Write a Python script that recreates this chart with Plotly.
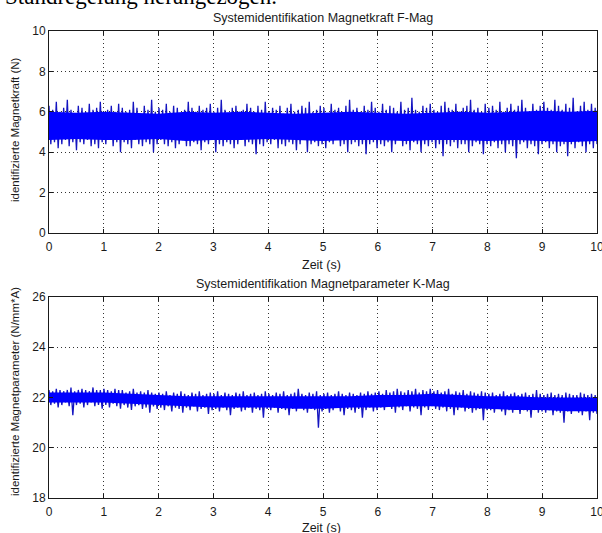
import numpy as np
import plotly.graph_objects as go
from plotly.subplots import make_subplots

# ---- data (envelope samples of the noisy signals) ----
t_start, t_end = 0.0, 10.0

f_upper = [6.3,6.1,6.5,6.0,6.2,6.6,6.1,5.9,6.3,6.2,
           6.0,6.4,6.1,6.2,6.5,5.9,6.1,6.3,6.0,6.4,
           6.2,6.0,6.1,6.5,6.2,5.9,6.3,6.1,6.6,6.0,
           6.2,6.1,6.4,6.0,6.3,6.2,5.9,6.1,6.5,6.2,
           6.0,6.3,6.1,6.2,6.4,6.0,6.2,6.6,6.1,5.9,
           6.2,6.3,6.0,6.1,6.4,6.2,6.0,6.3,6.1,6.5,
           6.0,6.2,6.1,6.3,5.9,6.2,6.4,6.0,6.1,6.3,
           6.2,6.5,6.0,6.1,6.3,6.2,5.9,6.4,6.1,6.2,
           6.0,6.3,6.6,6.1,6.2,6.0,6.3,6.1,6.5,6.2,
           6.0,6.4,6.1,6.3,6.2,6.0,6.5,6.1,6.2,6.7,
           6.1,6.0,6.3,6.2,6.4,6.1,6.0,6.3,6.5,6.2,
           6.1,6.4,6.0,6.2,6.3,6.6,6.1,6.2,6.0,6.4,
           6.2,6.3,6.1,6.5,6.0,6.2,6.4,6.1,6.3,6.6,
           6.2,6.0,6.4,6.1,6.3,6.5,6.2,6.1,6.6,6.3,
           6.1,6.4,6.2,6.7,6.0,6.3,6.5,6.1,6.4,6.2]

f_lower = [4.4,4.5,4.2,4.4,4.6,4.3,4.5,4.1,4.5,4.4,
           4.6,4.3,4.4,4.2,4.5,4.4,4.6,4.3,4.5,4.0,
           4.5,4.4,4.2,4.6,4.4,4.3,4.5,4.4,4.0,4.4,
           4.6,4.4,4.3,4.5,4.2,4.4,4.6,4.3,4.3,4.5,
           4.4,4.1,4.5,4.4,4.6,4.0,4.4,4.3,4.5,4.4,
           4.2,4.4,4.6,4.3,4.5,4.4,3.9,4.4,4.3,4.5,
           4.4,4.6,4.2,4.4,4.3,4.5,4.4,4.1,4.4,4.6,
           4.0,4.4,4.5,4.3,4.4,4.2,4.5,4.4,4.6,4.3,
           4.4,4.0,4.4,4.5,4.3,4.4,3.9,4.4,4.5,4.2,
           4.4,4.3,4.5,4.0,4.4,4.6,4.3,4.4,4.1,4.5,
           4.4,4.0,4.4,4.3,4.5,4.2,4.4,3.8,4.4,4.3,
           4.5,4.2,4.4,4.4,4.0,4.3,4.5,4.4,3.9,4.4,
           4.3,4.5,4.2,4.4,4.0,4.4,4.3,3.7,4.4,4.5,
           4.2,4.4,4.3,3.9,4.4,4.5,4.2,4.4,4.0,4.3,
           4.4,3.8,4.4,4.2,4.5,4.3,4.0,4.4,4.2,4.4]

# solid core of the band (every 0.5 s)
f_core_hi = [6.0,5.95,6.0,5.95,5.9,6.0,5.95,6.0,5.95,5.9,5.95,6.0,5.95,5.9,5.95,6.0,5.95,6.0,6.05,6.0,6.05]
f_core_lo = [4.6,4.65,4.6,4.6,4.65,4.55,4.6,4.6,4.65,4.6,4.55,4.6,4.6,4.55,4.6,4.6,4.55,4.6,4.55,4.5,4.55]

k_upper = [22.3,22.25,22.35,22.3,22.25,22.3,22.4,22.25,22.3,22.35,22.3,22.25,22.4,22.3,22.3,
           22.35,22.3,22.25,22.35,22.3,22.3,22.2,22.25,22.35,22.2,22.25,22.2,22.3,22.2,22.15,
           22.2,22.15,22.25,22.1,22.2,22.15,22.25,22.15,22.1,22.2,22.15,22.25,22.1,22.15,22.2,
           22.15,22.25,22.1,22.2,22.15,22.1,22.2,22.15,22.25,22.1,22.15,22.2,22.1,22.15,22.25,
           22.15,22.1,22.2,22.15,22.25,22.1,22.15,22.2,22.35,22.15,22.1,22.2,22.15,22.25,22.1,
           22.15,22.2,22.1,22.15,22.25,22.15,22.1,22.2,22.15,22.1,22.2,22.15,22.25,22.15,22.2,
           22.25,22.15,22.3,22.2,22.25,22.35,22.25,22.2,22.3,22.25,22.35,22.2,22.3,22.25,22.35,
           22.25,22.3,22.2,22.25,22.35,22.15,22.25,22.2,22.3,22.15,22.25,22.2,22.15,22.25,22.2,
           22.15,22.2,22.1,22.15,22.25,22.1,22.15,22.2,22.1,22.15,22.2,22.1,22.15,22.3,22.15,
           22.1,22.15,22.2,22.1,22.15,22.1,22.2,22.15,22.1,22.1,22.2,22.15,22.1,22.15,22.1]

k_lower = [21.7,21.75,21.6,21.7,21.8,21.65,21.3,21.7,21.75,21.6,21.7,21.8,21.65,21.7,21.55,
           21.7,21.6,21.75,21.65,21.55,21.7,21.6,21.5,21.65,21.7,21.55,21.6,21.4,21.65,21.55,
           21.6,21.5,21.65,21.45,21.6,21.55,21.4,21.6,21.5,21.65,21.45,21.55,21.6,21.35,21.5,
           21.55,21.45,21.6,21.5,21.3,21.55,21.6,21.45,21.5,21.6,21.4,21.55,21.5,21.2,21.55,
           21.5,21.6,21.4,21.55,21.5,21.3,21.55,21.45,21.6,21.5,21.4,21.55,21.5,20.8,21.45,
           21.55,21.4,21.5,21.6,21.45,21.3,21.55,21.5,21.4,21.55,21.2,21.5,21.6,21.45,21.5,
           21.6,21.5,21.65,21.55,21.4,21.6,21.5,21.65,21.45,21.6,21.55,21.3,21.6,21.5,21.65,
           21.55,21.5,21.6,21.45,21.55,21.3,21.5,21.6,21.45,21.55,21.4,21.5,21.55,21.1,21.5,
           21.5,21.4,21.55,21.45,21.3,21.5,21.4,21.55,21.35,21.5,21.45,21.2,21.5,21.4,21.45,
           21.4,21.5,21.3,21.45,21.4,21.0,21.45,21.35,21.5,21.4,21.3,21.45,21.1,21.4,21.35]

k_core_hi = [22.2,22.2,22.2,22.15,22.1,22.05,22.05,22.05,22.05,22.05,22.05,22.05,22.1,22.1,22.15,22.1,22.05,22.05,22.0,22.0,22.0]
k_core_lo = [21.8,21.8,21.8,21.75,21.7,21.65,21.6,21.6,21.6,21.55,21.55,21.6,21.6,21.65,21.65,21.6,21.55,21.5,21.5,21.45,21.45]

x_ticks = [0, 1, 2, 3, 4, 5, 6, 7, 8, 9, 10]
f_ticks = [0, 2, 4, 6, 8, 10]
k_ticks = [18, 20, 22, 24, 26]

title_f = "Systemidentifikation Magnetkraft F-Mag"
title_k = "Systemidentifikation Magnetparameter K-Mag"
ylabel_f = "identifizierte Magnetkraft (N)"
ylabel_k = "identifizierte Magnetparameter (N/mm*A)"
xlabel = "Zeit (s)"
page_text = "Standregelung herangezogen."


def zigzag(upper, lower):
    n = len(upper)
    t = np.linspace(t_start, t_end, 2 * n)
    y = np.empty(2 * n)
    y[0::2] = upper
    y[1::2] = lower
    return t, y


def band(hi, lo):
    t = np.linspace(t_start, t_end, len(hi))
    return np.concatenate([t, t[::-1]]), np.concatenate([hi, lo[::-1]])


W, H = 602, 533
ml, mr, mt, mb = 49, 5, 31, 35
ph = H - mt - mb

fig = make_subplots(rows=2, cols=1)

line = dict(color="#1414c0", width=1.3)
for (up, lo, hi_c, lo_c, r) in [(f_upper, f_lower, f_core_hi, f_core_lo, 1),
                                (k_upper, k_lower, k_core_hi, k_core_lo, 2)]:
    tz, yz = zigzag(up, lo)
    fig.add_trace(go.Scatter(x=tz, y=yz, mode="lines", line=line, showlegend=False,
                             hoverinfo="skip"), row=r, col=1)
    tb, yb = band(np.array(hi_c), np.array(lo_c))
    fig.add_trace(go.Scatter(x=tb, y=yb, mode="lines", fill="toself", fillcolor="#0000ff",
                             line=dict(width=0, color="#0000ff"), showlegend=False,
                             hoverinfo="skip"), row=r, col=1)

tick_font = dict(family="Liberation Sans, Arial, sans-serif", size=12, color="#1a1a1a")
axcommon = dict(showline=True, linecolor="#1a1a1a", linewidth=1, mirror="ticks",
                ticks="inside", ticklen=4, tickcolor="#1a1a1a",
                showgrid=True, gridcolor="#333333", griddash="1px,3px", gridwidth=1,
                zeroline=False, tickfont=tick_font, automargin=False,
                ticklabeloverflow="allow")
xcommon = dict(axcommon, ticklabelstandoff=3)

top_dom = [(H - mb - 233) / ph, 1.0]
bot_dom = [0.0, (H - mb - 297) / ph]

fig.update_layout(
    width=W, height=H,
    margin=dict(l=ml, r=mr, t=mt, b=mb),
    paper_bgcolor="white", plot_bgcolor="white",
    font=tick_font,
    xaxis=dict(xcommon, range=[0, 10], tickvals=x_ticks, domain=[0, 1]),
    yaxis=dict(axcommon, range=[0, 10], tickvals=f_ticks, domain=top_dom),
    xaxis2=dict(xcommon, range=[0, 10], tickvals=x_ticks, domain=[0, 1]),
    yaxis2=dict(axcommon, range=[18, 26], tickvals=k_ticks, domain=bot_dom),
)


def py(pix):
    return (H - mb - pix) / ph


def px(pix):
    return (pix - ml) / (W - ml - mr)


title_font = dict(family="Liberation Sans, Arial, sans-serif", size=12.5, color="#1a1a1a")
ylab_font = dict(family="Liberation Sans, Arial, sans-serif", size=11.5, color="#1a1a1a")
common = dict(xref="paper", yref="paper", showarrow=False, xanchor="center", yanchor="middle")
ann = [
    dict(common, text=title_f, x=px(323), y=py(18), font=title_font),
    dict(common, text=xlabel, x=px(321), y=py(265), font=title_font),
    dict(common, text=title_k, x=px(323), y=py(284), font=title_font),
    dict(common, text=xlabel, x=px(321), y=py(528), font=title_font),
    dict(common, text=ylabel_f, x=px(15), y=py(130), textangle=-90, font=ylab_font),
    dict(common, text=ylabel_k, x=px(15), y=py(392), textangle=-90, font=ylab_font),
    dict(xref="paper", yref="paper", showarrow=False, text=page_text,
         x=px(279), y=py(-3), xanchor="right", yanchor="middle",
         font=dict(family="Liberation Serif, Times New Roman, serif", size=23, color="#000000")),
]
fig.update_layout(annotations=ann)

fig.write_html("out.html", config={"displayModeBar": False},
               post_script="document.body.style.margin='0';document.body.style.overflow='hidden';")
